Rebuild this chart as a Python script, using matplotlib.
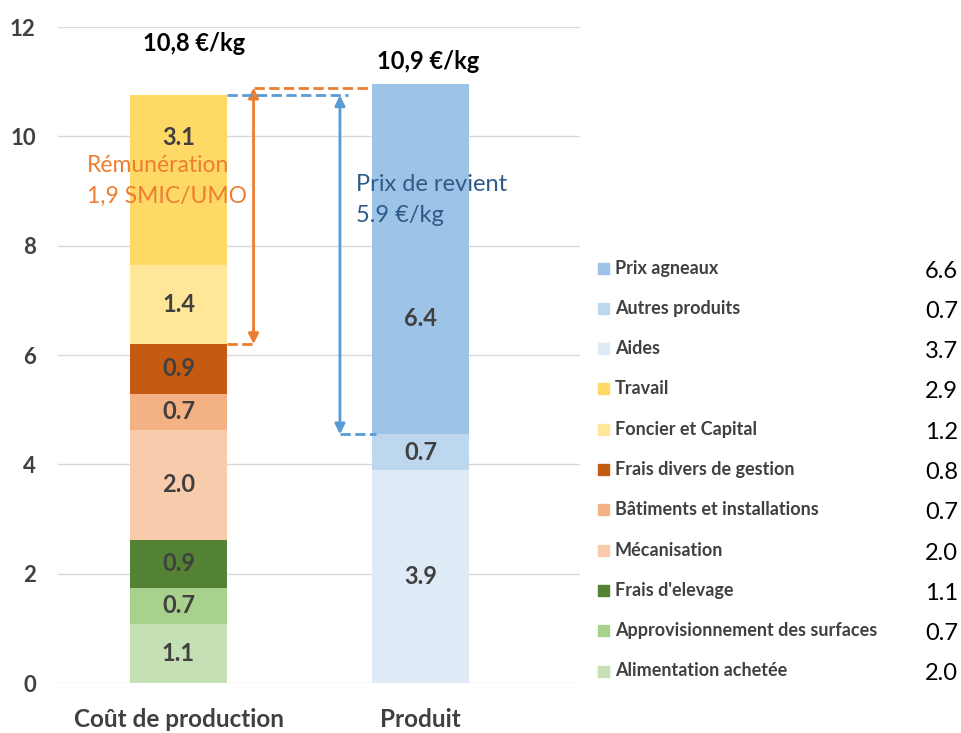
import matplotlib.pyplot as plt
from matplotlib.patches import Rectangle

plt.rcParams['font.family'] = ['Lato', 'DejaVu Sans']

# --- données ---
categories = ['Coût de production', 'Produit']

cout_labels = ['Alimentation achetée', 'Approvisionnement des surfaces', "Frais d'elevage",
               'Mécanisation', 'Bâtiments et installations', 'Frais divers de gestion',
               'Foncier et Capital', 'Travail']
cout_values = [1.08, 0.66, 0.88, 2.01, 0.66, 0.91, 1.45, 3.11]
cout_texts = ['1.1', '0.7', '0.9', '2.0', '0.7', '0.9', '1.4', '3.1']
cout_colors = ['#C5E0B4', '#A9D18E', '#548235', '#F8CBAD', '#F4B183', '#C55A11', '#FFE699', '#FFD966']
cout_label_pos = [0.5, 0.5, 0.5, 0.5, 0.5, 0.5, 0.5, 0.75]

produit_labels = ['Aides', 'Autres produits', 'Prix agneaux']
produit_values = [3.9, 0.65, 6.4]
produit_texts = ['3.9', '0.7', '6.4']
produit_colors = ['#DEEBF7', '#BDD7EE', '#9DC3E6']
produit_label_pos = [0.5, 0.5, 0.33]

totaux = ['10,8 €/kg', '10,9 €/kg']

legend_labels = ['Prix agneaux', 'Autres produits', 'Aides', 'Travail', 'Foncier et Capital',
                 'Frais divers de gestion', 'Bâtiments et installations', 'Mécanisation',
                 "Frais d'elevage", 'Approvisionnement des surfaces', 'Alimentation achetée']
legend_colors = ['#9DC3E6', '#BDD7EE', '#DEEBF7', '#FFD966', '#FFE699', '#C55A11',
                 '#F4B183', '#F8CBAD', '#548235', '#A9D18E', '#C5E0B4']
legend_values = ['6.6', '0.7', '3.7', '2.9', '1.2', '0.8', '0.7', '2.0', '1.1', '0.7', '2.0']

remuneration = (6.2, 10.89)      # bas / haut de la flèche orange
prix_revient = (4.55, 10.75)     # bas / haut de la flèche bleue

TXT = '#404040'
ORANGE = '#ED7D31'
BLEU = '#5B9BD5'
BLEU_TXT = '#2E5C8A'

fig = plt.figure(figsize=(9.62, 7.33), dpi=100)
ax = fig.add_axes([58 / 962, 50 / 733, (580 - 58) / 962, 656 / 733])

w = 0.40
# barre coût de production
bottom = 0
for v, t, c, p in zip(cout_values, cout_texts, cout_colors, cout_label_pos):
    ax.bar(0, v, w, bottom=bottom, color=c, zorder=2)
    ax.text(0, bottom + v * p, t, ha='center', va='center',
            fontsize=17, fontweight='bold', color=TXT, zorder=3)
    bottom += v

# barre produit
bottom = 0
for v, t, c, p in zip(produit_values, produit_texts, produit_colors, produit_label_pos):
    ax.bar(1, v, w, bottom=bottom, color=c, zorder=2)
    ax.text(1, bottom + v * p, t, ha='center', va='center',
            fontsize=17, fontweight='bold', color=TXT, zorder=3)
    bottom += v

ax.text(0.065, 11.7, totaux[0], ha='center', va='center', fontsize=17, fontweight='bold', color='black')
ax.text(1.03, 11.36, totaux[1], ha='center', va='center', fontsize=17, fontweight='bold', color='black')

# flèche orange : rémunération
xo = 0.31
ax.plot([w / 2, xo], [remuneration[0], remuneration[0]], ls='--', color=ORANGE, lw=2, zorder=3)
ax.plot([xo, 1 - w / 2], [remuneration[1], remuneration[1]], ls='--', color=ORANGE, lw=2, zorder=3)
ax.annotate('', xy=(xo, remuneration[1]), xytext=(xo, remuneration[0]),
            arrowprops=dict(arrowstyle='<|-|>', color=ORANGE, lw=2, mutation_scale=15,
                            shrinkA=0, shrinkB=0), zorder=3)
ax.text(-0.38, 9.47, 'Rémunération', ha='left', va='center', fontsize=16.5, color=ORANGE, zorder=4)
ax.text(-0.38, 8.9, '1,9 SMIC/UMO', ha='left', va='center', fontsize=16.5, color=ORANGE, zorder=4)

# flèche bleue : prix de revient
xb = 0.667
ax.plot([w / 2, 0.70], [prix_revient[1], prix_revient[1]], ls='--', color=BLEU, lw=2, zorder=3)
ax.plot([xb, 1 - w / 2 + 0.015], [prix_revient[0], prix_revient[0]], ls='--', color=BLEU, lw=2, zorder=3)
ax.annotate('', xy=(xb, prix_revient[1]), xytext=(xb, prix_revient[0]),
            arrowprops=dict(arrowstyle='<|-|>', color=BLEU, lw=2, mutation_scale=15,
                            shrinkA=0, shrinkB=0), zorder=3)
ax.text(0.735, 9.12, 'Prix de revient', ha='left', va='center', fontsize=17, color=BLEU_TXT, zorder=4)
ax.text(0.735, 8.55, '5.9 €/kg', ha='left', va='center', fontsize=17, color=BLEU_TXT, zorder=4)

ax.set_xlim(-0.498, 1.659)
ax.set_ylim(0, 12)
ax.set_yticks(range(0, 13, 2))
ax.set_xticks([0, 1])
ax.set_xticklabels(categories, fontsize=17.5, fontweight='bold', color=TXT)
ax.tick_params(axis='both', length=0, colors=TXT)
ax.tick_params(axis='x', pad=18, labelsize=17.5)
ax.tick_params(axis='y', pad=16, labelsize=16)
for lab in ax.get_yticklabels():
    lab.set_fontweight('bold')
ax.yaxis.grid(True, color='#D9D9D9', lw=1, zorder=0)
ax.set_axisbelow(True)
for s in ax.spines.values():
    s.set_visible(False)

# légende manuelle
for i, (lab, col, val) in enumerate(zip(legend_labels, legend_colors, legend_values)):
    y = 1 - (268 + i * 40.3) / 733
    fig.patches.append(Rectangle((598 / 962, y - 5.5 / 733), 11 / 962, 11 / 733,
                                 transform=fig.transFigure, color=col))
    fig.text(615 / 962, y, lab, ha='left', va='center', fontsize=13, fontweight='bold', color=TXT)
    fig.text(958 / 962, y - 3 / 733, val, ha='right', va='center', fontsize=17, color='black')

plt.savefig('out.png', dpi=100)
